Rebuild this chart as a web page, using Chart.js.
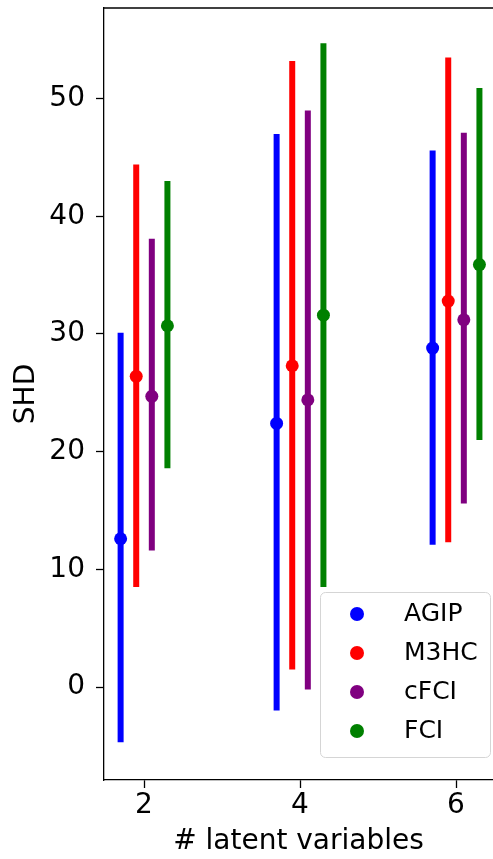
<!DOCTYPE html>
<html>
<head>
<meta charset="utf-8">
<script src="https://cdn.jsdelivr.net/npm/chart.js"></script>
<style>
    html, body { margin: 0; padding: 0; background: #ffffff; overflow: hidden; }
    #wrap { width: 493px; height: 859px; }
</style>
</head>
<body>
<div id="wrap"><canvas id="shdChart" width="493" height="859"></canvas></div>
<script>
// Datos
const latentCounts = [2, 4, 6];
const methodNames = ['AGIP', 'M3HC', 'cFCI', 'FCI'];
const methodColors = ['blue', 'red', 'purple', 'green'];
const yTickValues = [0, 10, 20, 30, 40, 50];

// Media de SHD por método
const agipMean = [12.6, 22.4, 28.8];
const m3hcMean = [26.4, 27.3, 32.8];
const cfciMean = [24.7, 24.4, 31.2];
const fciMean = [30.7, 31.6, 35.9];

// Extremo inferior de la barra de error
const agipLow = [-4.7, -2.0, 12.1];
const m3hcLow = [8.5, 1.5, 12.3];
const cfciLow = [11.6, -0.2, 15.6];
const fciLow = [18.6, 8.5, 21.0];

// Extremo superior de la barra de error
const agipHigh = [30.1, 47.0, 45.6];
const m3hcHigh = [44.4, 53.2, 53.5];
const cfciHigh = [38.1, 49.0, 47.1];
const fciHigh = [43.0, 54.7, 50.9];

const meanValues = [agipMean, m3hcMean, cfciMean, fciMean];
const lowValues = [agipLow, m3hcLow, cfciLow, fciLow];
const highValues = [agipHigh, m3hcHigh, cfciHigh, fciHigh];

const FONT = 'DejaVu Sans';

// Construir datasets: barra de error (flotante) + punto de la media
const datasets = [];
methodNames.forEach((name, i) => {
    const shift = (i - 1.5) * 0.2; // desplazamiento dentro del grupo
    datasets.push({
        type: 'bar',
        label: name,
        data: latentCounts.map((g, j) => ({ x: g + shift, y: [lowValues[i][j], highValues[i][j]] })),
        backgroundColor: methodColors[i],
        borderWidth: 0,
        grouped: false,
        maxBarThickness: 6,
        order: 2
    });
    datasets.push({
        type: 'scatter',
        label: name,
        data: latentCounts.map((g, j) => ({ x: g + shift, y: meanValues[i][j] })),
        backgroundColor: methodColors[i],
        borderWidth: 0,
        pointRadius: 6.5,
        pointHoverRadius: 6.5,
        order: 1
    });
});

// Quitar el relleno automático que Chart.js añade por las etiquetas
function noPadding(scale) {
    scale.paddingTop = 0;
    scale.paddingBottom = 0;
    scale.paddingLeft = 0;
    scale.paddingRight = 0;
}

// El eje x llega hasta el borde derecho del lienzo
const stretchRight = {
    id: 'stretchRight',
    afterLayout(chart) {
        const xs = chart.scales.x;
        chart.chartArea.right = chart.width;
        chart.chartArea.width = chart.chartArea.right - chart.chartArea.left;
        xs.left = chart.chartArea.left;
        xs.right = chart.width;
        xs.width = xs.right - xs.left;
        xs.configure();
    }
};

// Línea superior del marco
const topSpine = {
    id: 'topSpine',
    afterDraw(chart) {
        const { ctx, chartArea } = chart;
        ctx.save();
        ctx.strokeStyle = '#000';
        ctx.lineWidth = 1.3;
        ctx.beginPath();
        ctx.moveTo(chartArea.left, chartArea.top);
        ctx.lineTo(chart.width, chartArea.top);
        ctx.stroke();
        ctx.restore();
    }
};

// Leyenda estilo matplotlib dentro del área
const boxLegend = {
    id: 'boxLegend',
    afterDatasetsDraw(chart) {
        const { ctx, chartArea } = chart;
        const w = 170, h = 165;
        const x = chartArea.right - 3 - w;
        const y = chartArea.bottom - 23 - h;
        ctx.save();
        ctx.beginPath();
        ctx.roundRect(x + 0.5, y + 0.5, w, h, 5);
        ctx.fillStyle = 'rgba(255,255,255,0.8)';
        ctx.fill();
        ctx.strokeStyle = '#d5d5d5';
        ctx.lineWidth = 1;
        ctx.stroke();
        ctx.font = '25px "' + FONT + '"';
        ctx.textBaseline = 'middle';
        ctx.textAlign = 'left';
        methodNames.forEach((name, i) => {
            const cy = y + 22 + i * 39;
            ctx.beginPath();
            ctx.arc(x + 37, cy, 7, 0, Math.PI * 2);
            ctx.fillStyle = methodColors[i];
            ctx.fill();
            ctx.fillStyle = '#000';
            ctx.fillText(name, x + 84, cy);
        });
        ctx.restore();
    }
};

const ctx = document.getElementById('shdChart').getContext('2d');
new Chart(ctx, {
    type: 'bar',
    data: { datasets: datasets },
    options: {
        responsive: false,
        animation: false,
        devicePixelRatio: 1,
        layout: { padding: { top: 8, right: 0, bottom: 0, left: 0 } },
        plugins: {
            legend: { display: false },
            tooltip: { enabled: false }
        },
        scales: {
            x: {
                type: 'linear',
                min: 1.487,
                max: 6.474,
                offset: false,
                afterBuildTicks: (scale) => { scale.ticks = latentCounts.map(v => ({ value: v })); },
                afterFit: (scale) => { scale.height = 79; noPadding(scale); },
                border: { display: true, color: '#000', width: 1.3 },
                grid: { display: true, offset: false, drawOnChartArea: false, drawTicks: true, tickLength: 8, tickColor: '#000', tickWidth: 1.3 },
                ticks: { color: '#000', padding: 1, maxRotation: 0, font: { family: FONT, size: 28 } },
                title: {
                    display: true,
                    text: '# latent variables',
                    color: '#000',
                    padding: 0,
                    font: { family: FONT, size: 28 }
                }
            },
            y: {
                type: 'linear',
                min: -7.9,
                max: 57.7,
                afterBuildTicks: (scale) => { scale.ticks = yTickValues.map(v => ({ value: v })); },
                afterFit: (scale) => { scale.width = 104; noPadding(scale); },
                border: { display: true, color: '#000', width: 1.3 },
                grid: { display: true, drawOnChartArea: false, drawTicks: true, tickLength: 8, tickColor: '#000', tickWidth: 1.3 },
                ticks: { color: '#000', padding: 11, font: { family: FONT, size: 28 } },
                title: {
                    display: true,
                    text: 'SHD',
                    color: '#000',
                    padding: { top: 10, bottom: 0 },
                    font: { family: FONT, size: 28 }
                }
            }
        }
    },
    plugins: [stretchRight, topSpine, boxLegend]
});
</script>
</body>
</html>
